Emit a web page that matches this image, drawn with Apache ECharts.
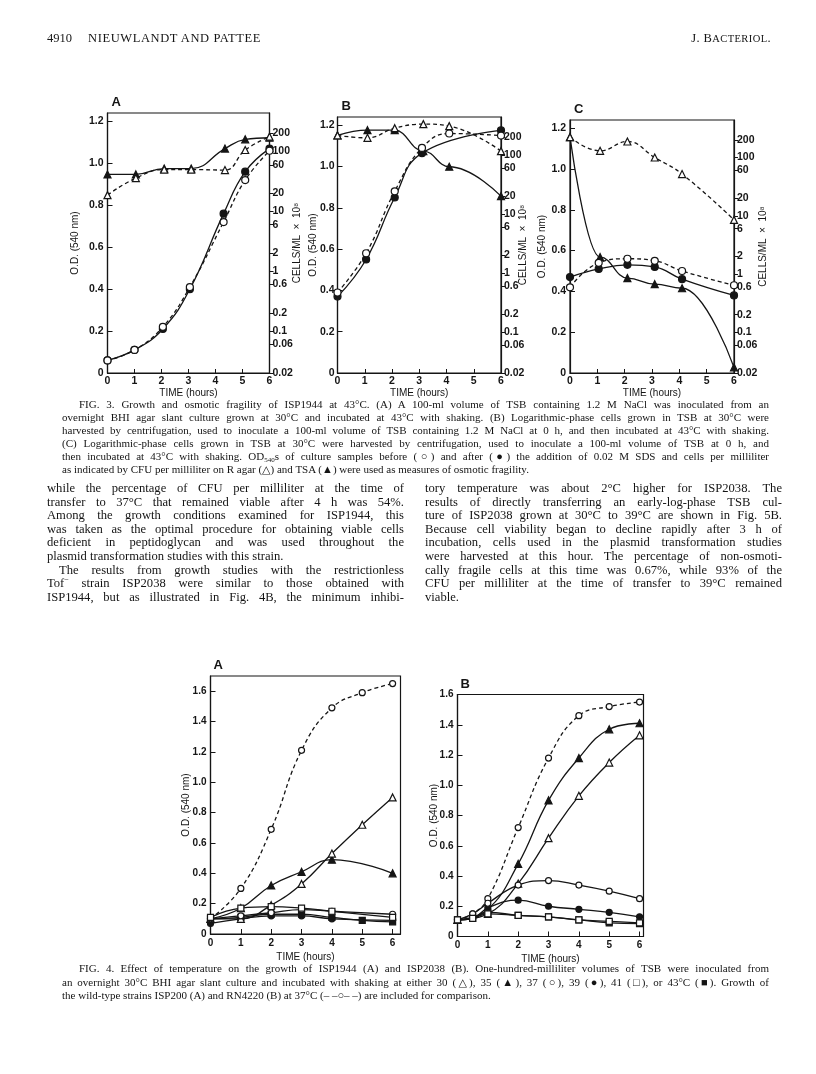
<!DOCTYPE html>
<html><head><meta charset="utf-8">
<script src="https://cdn.jsdelivr.net/npm/echarts@6/dist/echarts.min.js"></script>
<style>
html,body{margin:0;padding:0;background:#fff;}
#page{position:relative;width:816px;height:1074px;overflow:hidden;background:#fff;}
#chart{position:absolute;left:0;top:0;width:816px;height:1074px;}
.blk{position:absolute;font-family:"Liberation Serif","DejaVu Serif",serif;color:#141414;}
.blk div{text-align:justify;text-align-last:justify;white-space:normal;}
.blk div.l{text-align-last:left;}
.sb{font-size:7px;vertical-align:-2px;line-height:0;}
</style>
</head><body>
<div id="page">
<div id="chart"></div>
<div class="blk" style="left:47px;top:30px;width:724px;font-size:12.5px;line-height:16px;">
  <span style="position:absolute;left:0;">4910</span>
  <span style="position:absolute;left:41px;letter-spacing:0.6px;">NIEUWLANDT AND PATTEE</span>
  <span style="position:absolute;right:0;letter-spacing:0.4px;">J. B<span style="font-size:10.5px">ACTERIOL</span>.</span>
</div>
<div class="blk" style="left:62px;top:398px;width:707px;font-size:11px;line-height:13px;">
<div style="padding-left:17px">FIG. 3. Growth and osmotic fragility of ISP1944 at 43°C. (A) A 100-ml volume of TSB containing 1.2 M NaCl was inoculated from an</div>
<div>overnight BHI agar slant culture grown at 30°C and incubated at 43°C with shaking. (B) Logarithmic-phase cells grown in TSB at 30°C were</div>
<div>harvested by centrifugation, used to inoculate a 100-ml volume of TSB containing 1.2 M NaCl at 0 h, and then incubated at 43°C with shaking.</div>
<div>(C) Logarithmic-phase cells grown in TSB at 30°C were harvested by centrifugation, used to inoculate a 100-ml volume of TSB at 0 h, and</div>
<div>then incubated at 43°C with shaking. OD<span class="sb">540</span>s of culture samples before (○) and after (●) the addition of 0.02 M SDS and cells per milliliter</div>
<div class="l">as indicated by CFU per milliliter on R agar (△) and TSA (▲) were used as measures of osmotic fragility.</div>
</div>
<div class="blk" style="left:47px;top:482px;width:357px;font-size:12.6px;line-height:13.6px;">
<div>while the percentage of CFU per milliliter at the time of</div>
<div>transfer to 37°C that remained viable after 4 h was 54%.</div>
<div>Among the growth conditions examined for ISP1944, this</div>
<div>was taken as the optimal procedure for obtaining viable cells</div>
<div>deficient in peptidoglycan and was used throughout the</div>
<div class="l">plasmid transformation studies with this strain.</div>
<div style="padding-left:12px">The results from growth studies with the restrictionless</div>
<div>Tof<sup style="font-size:8px;line-height:0">−</sup> strain ISP2038 were similar to those obtained with</div>
<div>ISP1944, but as illustrated in Fig. 4B, the minimum inhibi-</div>
</div>
<div class="blk" style="left:425px;top:482px;width:357px;font-size:12.6px;line-height:13.6px;">
<div>tory temperature was about 2°C higher for ISP2038. The</div>
<div>results of directly transferring an early-log-phase TSB cul-</div>
<div>ture of ISP2038 grown at 30°C to 39°C are shown in Fig. 5B.</div>
<div>Because cell viability began to decline rapidly after 3 h of</div>
<div>incubation, cells used in the plasmid transformation studies</div>
<div>were harvested at this hour. The percentage of non-osmoti-</div>
<div>cally fragile cells at this time was 0.67%, while 93% of the</div>
<div>CFU per milliliter at the time of transfer to 39°C remained</div>
<div class="l">viable.</div>
</div>
<div class="blk" style="left:62px;top:962px;width:707px;font-size:11px;line-height:13.5px;">
<div style="padding-left:17px">FIG. 4. Effect of temperature on the growth of ISP1944 (A) and ISP2038 (B). One-hundred-milliliter volumes of TSB were inoculated from</div>
<div>an overnight 30°C BHI agar slant culture and incubated with shaking at either 30 (△), 35 (▲), 37 (○), 39 (●), 41 (□), or 43°C (■). Growth of</div>
<div class="l">the wild-type strains ISP200 (A) and RN4220 (B) at 37°C (– –○– –) are included for comparison.</div>
</div>
</div>
<script>
// ---------- FIG. 3 data (O.D. left axis; CFU per ml x10^8 right log axis) ----------
const odTicks = [0, 0.2, 0.4, 0.6, 0.8, 1.0, 1.2];
const cellTicks = [0.02, 0.06, 0.1, 0.2, 0.6, 1, 2, 6, 10, 20, 60, 100, 200];
const cellTickLabels = ['0.02', '0.06', '0.1', '0.2', '0.6', '1', '2', '6', '10', '20', '60', '100', '200'];
const hourTicks = [0, 1, 2, 3, 4, 5, 6];

// Panel A
const a_timeOD = [0, 1, 2.05, 3.05, 4.3, 5.1, 6];
const a_odBefore = [0.06, 0.11, 0.22, 0.41, 0.72, 0.92, 1.06];
const a_odAfter = [0.06, 0.11, 0.21, 0.40, 0.76, 0.96, 1.07];
const a_timeCFU = [0, 1.05, 2.1, 3.1, 4.35, 5.1, 6];
const a_cfuRagar = [18.7, 36, 50, 50, 49, 106, 177];
const a_cfuTSA = [41.5, 41.5, 52, 52, 112, 160, 170];

// Panel B
const b_timeOD = [0, 1.05, 2.1, 3.1, 4.1, 6];
const b_odBefore = [0.39, 0.58, 0.88, 1.09, 1.16, 1.15];
const b_timeODafter = [0, 1.05, 2.1, 3.1, 6];
const b_odAfter = [0.37, 0.55, 0.85, 1.065, 1.175];
const b_timeCFU = [0, 1.1, 2.1, 3.15, 4.1, 6];
const b_cfuRagar = [214, 195, 284, 333, 308, 116];
const b_cfuTSA = [214, 263, 263, 116, 63, 20];

// Panel C
const c_timeOD = [0, 1.05, 2.1, 3.1, 4.1, 6];
const c_odBefore = [0.42, 0.54, 0.56, 0.55, 0.50, 0.43];
const c_odAfter = [0.47, 0.51, 0.53, 0.52, 0.46, 0.38];
const c_timeCFU = [0, 1.1, 2.1, 3.1, 4.1, 6];
const c_cfuRagar = [223, 130, 188, 100, 52, 8.5];
const c_cfuTSA = [223, 1.95, 0.85, 0.67, 0.57, 0.025];

// ---------- FIG. 4 data (O.D. 540 nm) ----------
const f4a_time = [0, 1, 2, 3, 4, 5, 6];
const f4a_wild37 = [0.10, 0.30, 0.69, 1.21, 1.49, 1.59, 1.65];
const f4a_t30 = [0.10, 0.10, 0.19, 0.33, 0.53, 0.72, 0.90];
const f4a_time6 = [0, 1, 2, 3, 4, 6];
const f4a_t35 = [0.10, 0.17, 0.32, 0.41, 0.49, 0.40];
const f4a_t37 = [0.10, 0.12, 0.14, 0.16, 0.15, 0.13];
const f4a_t39 = [0.07, 0.10, 0.12, 0.12, 0.10, 0.09];
const f4a_t41 = [0.11, 0.17, 0.18, 0.17, 0.15, 0.11];
const f4a_t43 = [0.10, 0.11, 0.13, 0.13, 0.11, 0.09, 0.08];

const f4b_timeHalf = [0, 0.5, 1, 2, 3, 4, 5, 6];
const f4b_time = [0, 1, 2, 3, 4, 5, 6];
const f4b_wild37 = [0.11, 0.15, 0.25, 0.72, 1.18, 1.46, 1.52, 1.55];
const f4b_t30 = [0.11, 0.15, 0.35, 0.65, 0.93, 1.15, 1.33];
const f4b_t35 = [0.11, 0.18, 0.48, 0.90, 1.18, 1.37, 1.41];
const f4b_t37 = [0.11, 0.15, 0.22, 0.34, 0.37, 0.34, 0.30, 0.25];
const f4b_t39 = [0.11, 0.12, 0.19, 0.24, 0.20, 0.18, 0.16, 0.13];
const f4b_t41 = [0.11, 0.12, 0.15, 0.14, 0.13, 0.11, 0.10, 0.09];
const f4b_t43 = [0.11, 0.12, 0.16, 0.14, 0.13, 0.11, 0.09, 0.085];
const f4Ticks = [0, 0.2, 0.4, 0.6, 0.8, 1.0, 1.2, 1.4, 1.6];

// ---------- chart building ----------
const INK = '#151515';
const LBL = {fontFamily: '"Liberation Sans", Arial, sans-serif', fontWeight: 'bold', fontSize: 10.5, color: INK};
const LBL4 = {fontFamily: '"Liberation Sans", Arial, sans-serif', fontWeight: 'bold', fontSize: 10, color: INK};
const NAME = {fontFamily: '"Liberation Sans", Arial, sans-serif', fontSize: 10, color: INK};
const fmtOD = v => (Math.abs(v) < 1e-9 ? '0' : v.toFixed(1));

const grids = [], xAxes = [], yAxes = [], series = [], graphics = [];

function zip(t, v) { return t.map((x, i) => [x, v[i]]); }
function line(xi, yi, t, v, sym, filled, dashed, size, mono) {
  series.push({
    type: 'line', xAxisIndex: xi, yAxisIndex: yi, data: zip(t, v),
    smooth: 0.45, smoothMonotone: mono || null, symbol: sym, symbolSize: size || 7, showSymbol: true, showAllSymbol: true,
    lineStyle: {color: INK, width: 1.3, type: dashed ? [4, 3] : 'solid'},
    itemStyle: {color: filled ? INK : '#fff', borderColor: INK, borderWidth: 1.2},
    z: filled ? 3 : 4, animation: false, silent: true
  });
}

function fig3Panel(g, letter) {
  const gi = grids.length;
  grids.push({left: g.l, top: g.t, width: g.w, height: g.h, show: true, borderColor: INK, borderWidth: 1.2, backgroundColor: 'transparent'});
  const xi = xAxes.length;
  xAxes.push({type: 'value', gridIndex: gi, min: 0, max: 6,
    axisLine: {lineStyle: {color: INK, width: 1.2}}, splitLine: {show: false},
    axisTick: {inside: true, length: 4, customValues: hourTicks, lineStyle: {color: INK}},
    axisLabel: {customValues: hourTicks, margin: 3, ...LBL},
    name: 'TIME (hours)', nameLocation: 'middle', nameGap: 15, nameMoveOverlap: false, nameTextStyle: NAME});
  const yOD = yAxes.length;
  yAxes.push({type: 'value', gridIndex: gi, min: 0, max: 1.24, position: 'left',
    axisLine: {show: true, lineStyle: {color: INK, width: 1.2}}, splitLine: {show: false},
    axisTick: {inside: true, length: 5, customValues: odTicks, lineStyle: {color: INK}},
    axisLabel: {customValues: odTicks, formatter: fmtOD, margin: g.lm, ...LBL},
    name: 'O.D. (540 nm)', nameLocation: 'middle', nameGap: g.ng, nameMoveOverlap: false, nameTextStyle: NAME});
  const lmin = Math.log10(0.02), lmax = Math.log10(440);
  yAxes.push({type: 'value', gridIndex: gi, min: lmin, max: lmax, position: 'right',
    axisLine: {show: true, lineStyle: {color: INK, width: 1.2}}, splitLine: {show: false},
    axisTick: {inside: false, length: 4, customValues: cellTicks.map(Math.log10), lineStyle: {color: INK}},
    axisLabel: {customValues: cellTicks.map(Math.log10), margin: 3, ...LBL,
      formatter: v => { let k = 0, b = 1e9; cellTicks.forEach((c, i) => { const d = Math.abs(Math.log10(c) - v); if (d < b) { b = d; k = i; } }); return cellTickLabels[k]; }},
    name: 'CELLS/ML  ×  10\u2078', nameLocation: 'middle', nameGap: g.rg, nameMoveOverlap: false, nameTextStyle: NAME});
  const yLog = yAxes.length;
  yAxes.push({type: 'log', logBase: 10, gridIndex: gi, min: 0.02, max: 440, show: false, position: 'right', splitLine: {show: false}});
  graphics.push({type: 'text', left: g.l + 4, top: g.t - 17, style: {text: letter, font: 'bold 13px "Liberation Sans", Arial', fill: INK}});
  return {xi, yOD, yLog};
}

// Fig. 3 panels
const pA = fig3Panel({l: 107.5, t: 113, w: 162, h: 260, ng: 27, rg: 23, lm: 4}, 'A');
line(pA.xi, pA.yOD, a_timeOD, a_odBefore, 'circle', false, true, 7);
line(pA.xi, pA.yOD, a_timeOD, a_odAfter, 'circle', true, false, 7);
line(pA.xi, pA.yLog, a_timeCFU, a_cfuRagar, 'triangle', false, true, 7);
line(pA.xi, pA.yLog, a_timeCFU, a_cfuTSA, 'triangle', true, false, 7);

const pB = fig3Panel({l: 337.5, t: 117, w: 163.5, h: 256, ng: 19, rg: 17, lm: 3}, 'B');
line(pB.xi, pB.yOD, b_timeOD, b_odBefore, 'circle', false, true, 7);
line(pB.xi, pB.yOD, b_timeODafter, b_odAfter, 'circle', true, false, 7);
line(pB.xi, pB.yLog, b_timeCFU, b_cfuRagar, 'triangle', false, true, 7);
line(pB.xi, pB.yLog, b_timeCFU, b_cfuTSA, 'triangle', true, false, 7, 'x');

const pC = fig3Panel({l: 570, t: 120, w: 164, h: 253, ng: 23, rg: 24, lm: 4}, 'C');
line(pC.xi, pC.yOD, c_timeOD, c_odBefore, 'circle', false, true, 7);
line(pC.xi, pC.yOD, c_timeOD, c_odAfter, 'circle', true, false, 7);
line(pC.xi, pC.yLog, c_timeCFU, c_cfuRagar, 'triangle', false, true, 7);
line(pC.xi, pC.yLog, c_timeCFU, c_cfuTSA, 'triangle', true, false, 7, 'x');

function fig4Panel(g, letter) {
  const gi = grids.length;
  grids.push({left: g.l, top: g.t, width: g.w, height: g.h, show: true, borderColor: INK, borderWidth: 1.2, backgroundColor: 'transparent'});
  const xi = xAxes.length;
  xAxes.push({type: 'value', gridIndex: gi, min: 0, max: g.xmax,
    axisLine: {lineStyle: {color: INK, width: 1.2}}, splitLine: {show: false},
    axisTick: {inside: true, length: 5, customValues: hourTicks, lineStyle: {color: INK}},
    axisLabel: {customValues: hourTicks, margin: 4, ...LBL4},
    name: 'TIME (hours)', nameLocation: 'middle', nameGap: 18, nameMoveOverlap: false, nameTextStyle: NAME});
  const yi = yAxes.length;
  yAxes.push({type: 'value', gridIndex: gi, min: 0, max: g.ymax, position: 'left',
    axisLine: {show: true, lineStyle: {color: INK, width: 1.2}}, splitLine: {show: false},
    axisTick: {inside: true, length: 5, customValues: f4Ticks, lineStyle: {color: INK}},
    axisLabel: {customValues: f4Ticks, formatter: fmtOD, margin: 4, ...LBL4},
    name: 'O.D. (540 nm)', nameLocation: 'middle', nameGap: g.ng, nameMoveOverlap: false, nameTextStyle: NAME});
  graphics.push({type: 'text', left: g.l + 3, top: g.t - 17, style: {text: letter, font: 'bold 13px "Liberation Sans", Arial', fill: INK}});
  return {xi, yi};
}

const q4A = fig4Panel({l: 210.5, t: 676, w: 190, h: 258, xmax: 6.26, ymax: 1.7, ng: 19}, 'A');
line(q4A.xi, q4A.yi, f4a_time, f4a_wild37, 'circle', false, true, 6);
line(q4A.xi, q4A.yi, f4a_time, f4a_t30, 'triangle', false, false, 7);
line(q4A.xi, q4A.yi, f4a_time6, f4a_t35, 'triangle', true, false, 7);
line(q4A.xi, q4A.yi, f4a_time6, f4a_t37, 'circle', false, false, 6);
line(q4A.xi, q4A.yi, f4a_time6, f4a_t39, 'circle', true, false, 6);
line(q4A.xi, q4A.yi, f4a_time6, f4a_t41, 'rect', false, false, 6);
line(q4A.xi, q4A.yi, f4a_time, f4a_t43, 'rect', true, false, 6);

const q4B = fig4Panel({l: 457.5, t: 694.5, w: 186, h: 242, xmax: 6.13, ymax: 1.6, ng: 18}, 'B');
line(q4B.xi, q4B.yi, f4b_timeHalf, f4b_wild37, 'circle', false, true, 6);
line(q4B.xi, q4B.yi, f4b_time, f4b_t30, 'triangle', false, false, 7);
line(q4B.xi, q4B.yi, f4b_time, f4b_t35, 'triangle', true, false, 7);
line(q4B.xi, q4B.yi, f4b_timeHalf, f4b_t37, 'circle', false, false, 6);
line(q4B.xi, q4B.yi, f4b_timeHalf, f4b_t39, 'circle', true, false, 6);
line(q4B.xi, q4B.yi, f4b_timeHalf, f4b_t41, 'rect', false, false, 6);
line(q4B.xi, q4B.yi, f4b_timeHalf, f4b_t43, 'rect', true, false, 6);

const chart = echarts.init(document.getElementById('chart'), null, {renderer: 'canvas'});
chart.setOption({animation: false, backgroundColor: '#fff', grid: grids, xAxis: xAxes, yAxis: yAxes, series: series, graphic: graphics});
</script>
</body></html>
